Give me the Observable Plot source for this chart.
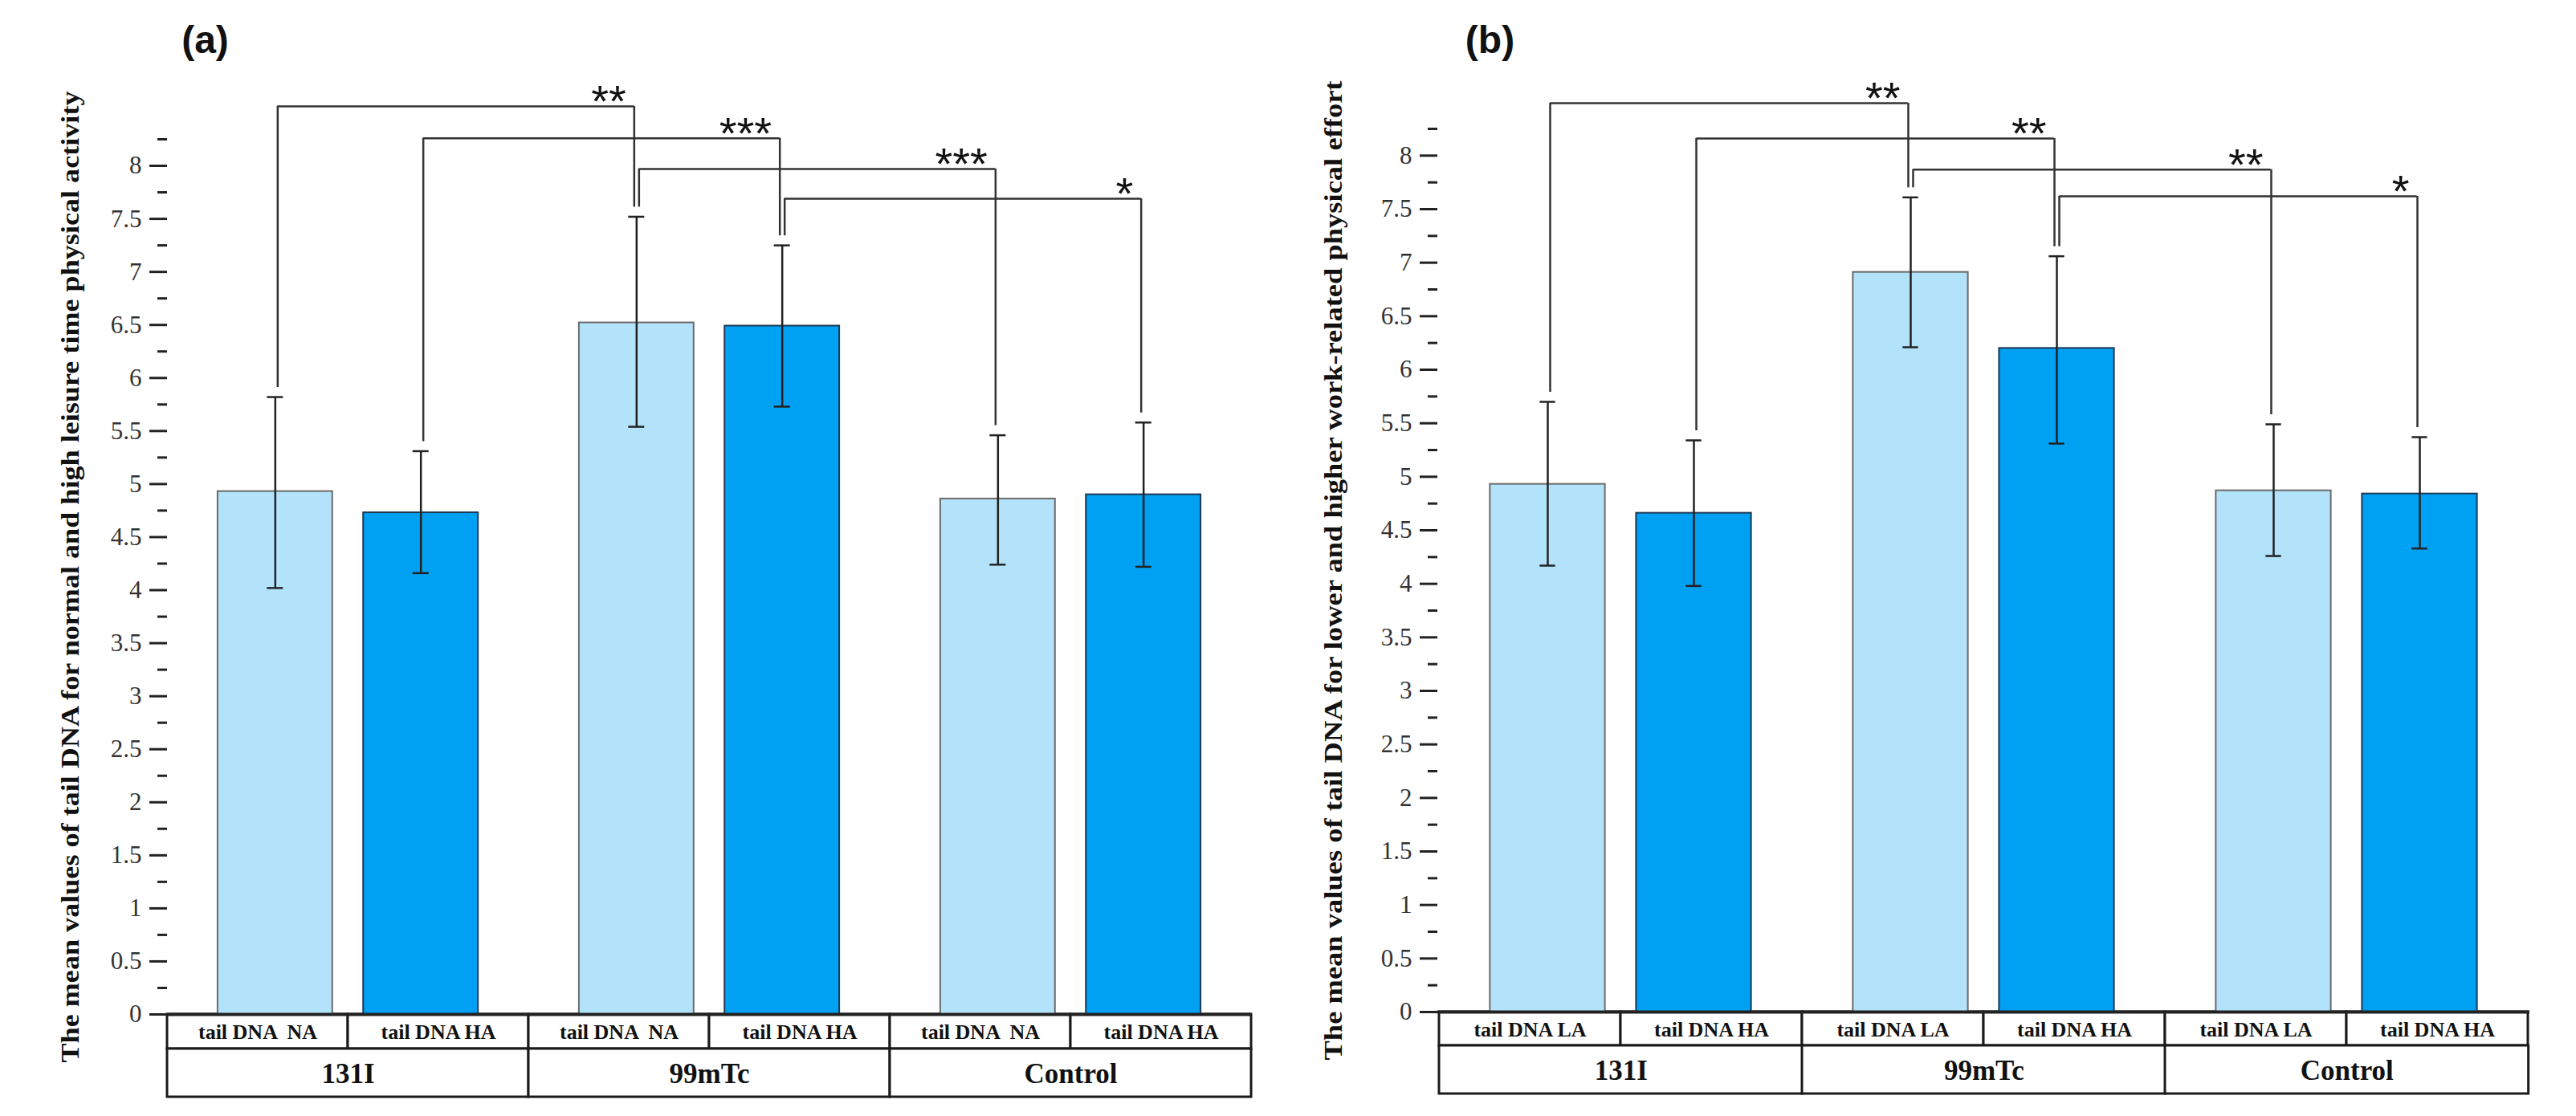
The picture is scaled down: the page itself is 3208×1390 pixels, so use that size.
<!DOCTYPE html>
<html>
<head>
<meta charset="utf-8">
<script src="https://cdn.jsdelivr.net/npm/d3@7"></script>
<script src="https://cdn.jsdelivr.net/npm/@observablehq/plot@0.6"></script>
<style>
html, body { margin: 0; padding: 0; background: #fff; }
#wrap { display: flex; width: 3208px; height: 1390px; overflow: hidden; }
svg text { white-space: pre; }
</style>
</head>
<body>
<div id="wrap"></div>
<script>
// ---- data ----
const groups = ["131I", "99mTc", "Control"];
const levelsA = ["NA", "HA"];
const levelsB = ["LA", "HA"];
const labelsA = ["tail DNA  NA", "tail DNA HA"];
const labelsB = ["tail DNA LA", "tail DNA HA"];

const meanA = [4.93, 4.73, 6.52, 6.49, 4.86, 4.90];
const lowA  = [4.02, 4.16, 5.54, 5.73, 4.24, 4.22];
const highA = [5.82, 5.31, 7.52, 7.25, 5.46, 5.58];

const meanB = [4.93, 4.66, 6.91, 6.20, 4.87, 4.84];
const lowB  = [4.17, 3.98, 6.21, 5.31, 4.26, 4.33];
const highB = [5.70, 5.34, 7.61, 7.06, 5.49, 5.37];

const yTicks = [0, 0.5, 1, 1.5, 2, 2.5, 3, 3.5, 4, 4.5, 5, 5.5, 6, 6.5, 7, 7.5, 8];
const yMinorTicks = [0.25, 0.75, 1.25, 1.75, 2.25, 2.75, 3.25, 3.75, 4.25, 4.75, 5.25, 5.75, 6.25, 6.75, 7.25, 7.75, 8.25];

// significance brackets (bar index from -> to, bracket height, label)
const bracketFromA  = [0, 1, 2, 3];
const bracketToA    = [2, 3, 4, 5];
const bracketLevelA = [8.56, 8.26, 7.97, 7.69];
const bracketLabelA = ["**", "***", "***", "*"];

const bracketFromB  = [0, 1, 2, 3];
const bracketToB    = [2, 3, 4, 5];
const bracketLevelB = [8.49, 8.16, 7.87, 7.62];
const bracketLabelB = ["**", "**", "**", "*"];

const titleA = "The mean values of tail DNA for normal and high leisure time physical activity";
const titleB = "The mean values of tail DNA for lower and higher work-related physical effort";

// ---- styles ----
const LIGHT = "#b3e3fa";
const DARK = "#00a0f2";
const SERIF = "'Liberation Serif', 'Times New Roman', serif";
const SANS = "'Liberation Sans', Arial, sans-serif";

function panel(cfg) {
  const {tag, title, levels, labels, mean, low, high, bFrom, bTo, bLevel, bLabel,
         width, height, marginLeft, marginRight, marginTop, marginBottom,
         titleDx, titleLen, tagDx, tagDy, row1H, row2H} = cfg;

  const rows = [];
  groups.forEach((g, gi) => levels.forEach((l, li) => {
    const i = gi * levels.length + li;
    rows.push({key: g + "|" + l, group: g, level: l, li, label: labels[li],
               mean: mean[i], low: low[i], high: high[i]});
  }));
  const keys = rows.map(d => d.key);
  const groupRows = rows.filter(d => d.li === 0);

  const bw = (width - marginLeft - marginRight) / keys.length;
  const barW = bw * 0.635;
  const barInset = (bw - barW) / 2;
  const shift = bw * 0.097;
  const shiftOf = li => (li === 0 ? shift : -shift);
  const capInset = (bw - 20) / 2;
  const legOff = 3;
  const legGap = 12;

  const brackets = bFrom.map((f, k) => ({
    from: rows[f], to: rows[bTo[k]], level: bLevel[k], label: bLabel[k]
  }));

  const marks = [];

  // table under the axis: row 1 (levels)
  marks.push(Plot.barY(rows, {x: "key", y1: 0, y2: 0, insetLeft: 0, insetRight: 0,
    insetTop: 0, insetBottom: -row1H, fill: "white", stroke: "#1a1a1a", strokeWidth: 3}));
  // row 2 (groups)
  marks.push(Plot.barY(groupRows, {x: "key", y1: 0, y2: 0, insetLeft: 0, insetRight: -bw,
    insetTop: row1H, insetBottom: -(row1H + row2H), fill: "white", stroke: "#1a1a1a", strokeWidth: 3}));
  marks.push(Plot.text(rows, {x: "key", y: 0, text: "label", dy: row1H / 2 + 1, lineAnchor: "middle",
    fontFamily: SERIF, fontWeight: "bold", fontSize: 26, fill: "#111"}));
  marks.push(Plot.text(groupRows, {x: "key", y: 0, text: "group", dx: bw / 2, dy: row1H + row2H / 2 + 1,
    lineAnchor: "middle", fontFamily: SERIF, fontWeight: "bold", fontSize: 35, fill: "#111"}));

  // bars, error bars
  levels.forEach((l, li) => {
    const sub = rows.filter(d => d.li === li);
    const dx = shiftOf(li);
    marks.push(Plot.barY(sub, {x: "key", y: "mean", insetLeft: barInset, insetRight: barInset, dx,
      fill: li === 0 ? LIGHT : DARK, stroke: li === 0 ? "#6a6a6a" : "#1d3a55", strokeWidth: 2}));
    marks.push(Plot.ruleX(sub, {x: "key", y1: "low", y2: "high", dx, stroke: "#222", strokeWidth: 2.5}));
    marks.push(Plot.tickY(sub, {x: "key", y: "high", dx, insetLeft: capInset, insetRight: capInset, stroke: "#222", strokeWidth: 2.5}));
    marks.push(Plot.tickY(sub, {x: "key", y: "low", dx, insetLeft: capInset, insetRight: capInset, stroke: "#222", strokeWidth: 2.5}));
  });

  // axis line at zero
  marks.push(Plot.ruleY([0], {stroke: "#222", strokeWidth: 4}));

  // y axis
  marks.push(Plot.axisY({ticks: yMinorTicks, tickSize: 12, tickFormat: () => "", strokeWidth: 3, stroke: "#222", label: null}));
  marks.push(Plot.axisY({ticks: yTicks, tickSize: 22, tickPadding: 10, tickFormat: d => String(d),
    strokeWidth: 3, stroke: "#222", fill: "#333", fontSize: 31, fontFamily: SERIF, label: null, line: true}));

  // significance brackets
  [0, 1].forEach(lf => [0, 1].forEach(lt => {
    const sub = brackets.filter(b => b.from.li === lf && b.to.li === lt);
    if (!sub.length) return;
    const sf = shiftOf(lf), st = shiftOf(lt);
    marks.push(Plot.ruleX(sub, {x: b => b.from.key, y1: "level", y2: b => b.from.high,
      insetBottom: legGap, dx: sf + legOff, stroke: "#333", strokeWidth: 2.5}));
    marks.push(Plot.ruleX(sub, {x: b => b.to.key, y1: "level", y2: b => b.to.high,
      insetBottom: legGap, dx: st - legOff, stroke: "#333", strokeWidth: 2.5}));
    marks.push(Plot.ruleY(sub, {y: "level", x1: b => b.from.key, x2: b => b.to.key,
      insetLeft: bw / 2 + legOff, insetRight: bw / 2 + legOff + sf - st, dx: sf,
      stroke: "#333", strokeWidth: 2.5}));
    marks.push(Plot.text(sub, {x: b => b.to.key, y: "level", text: "label", textAnchor: "end",
      lineAnchor: "middle", dx: st - legOff - 10, dy: -5, fontFamily: SANS, fontSize: 56, fill: "#111"}));
  }));

  // axis title
  marks.push(Plot.text([title], {frameAnchor: "left", rotate: -90, dx: titleDx, text: d => d,
    textAnchor: "middle", lineAnchor: "middle",
    fontFamily: SERIF, fontWeight: "bold", fontSize: 31, fill: "#111"}));

  // panel tag
  marks.push(Plot.text([tag], {frameAnchor: "top-left", dx: tagDx, dy: tagDy, text: d => d,
    textAnchor: "middle", lineAnchor: "middle",
    fontFamily: SANS, fontWeight: "bold", fontSize: 48, fill: "#111"}));

  const svg = Plot.plot({
    width, height, marginLeft, marginRight, marginTop, marginBottom,
    x: {type: "band", domain: keys, paddingInner: 0, paddingOuter: 0, axis: null},
    y: {domain: [0, 8.25]},
    style: {background: "white", overflow: "visible", fontFamily: SERIF},
    marks
  });
  svg.querySelectorAll("text").forEach(el => {
    if (el.textContent === title) {
      el.setAttribute("textLength", titleLen);
      el.setAttribute("lengthAdjust", "spacingAndGlyphs");
    }
  });
  return svg;
}

const wrap = document.getElementById("wrap");
wrap.appendChild(panel({
  tag: "(a)", title: titleA, levels: levelsA, labels: labelsA,
  mean: meanA, low: lowA, high: highA,
  bFrom: bracketFromA, bTo: bracketToA, bLevel: bracketLevelA, bLabel: bracketLabelA,
  width: 1600, height: 1390, marginLeft: 208, marginRight: 42, marginTop: 173, marginBottom: 127,
  titleDx: -120, titleLen: 1210, tagDx: 47, tagDy: -123, row1H: 43, row2H: 60
}));
wrap.appendChild(panel({
  tag: "(b)", title: titleB, levels: levelsB, labels: labelsB,
  mean: meanB, low: lowB, high: highB,
  bFrom: bracketFromB, bTo: bracketToB, bLevel: bracketLevelB, bLabel: bracketLabelB,
  width: 1608, height: 1390, marginLeft: 190, marginRight: 58, marginTop: 160, marginBottom: 130,
  titleDx: -129, titleLen: 1220, tagDx: 65, tagDy: -110, row1H: 42, row2H: 60
}));
</script>
</body>
</html>
